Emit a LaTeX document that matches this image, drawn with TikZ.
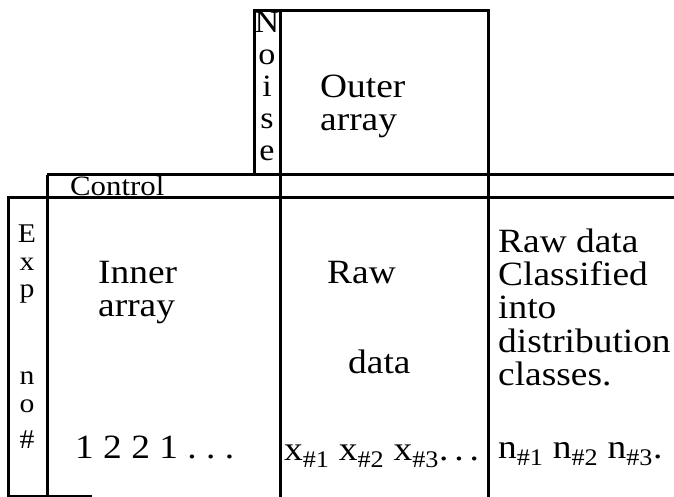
\documentclass[tikz,border=0pt]{standalone}
\usepackage{fontspec}
\setmainfont{Liberation Serif}[FakeStretch=1.1]
\begin{document}
\begin{tikzpicture}[x=1pt,y=-1pt,
  rule/.style={line width=3pt},
  thinrule/.style={line width=1.2pt},
  lbl/.style={anchor=base west, inner sep=0pt, font=\fontsize{34}{36}\selectfont},
  vletter/.style={anchor=base, inner sep=0pt, font=\fontsize{31}{33}\selectfont},
  eletter/.style={anchor=base, inner sep=0pt, font=\fontsize{27}{29}\selectfont},
  tag/.style={anchor=base west, inner sep=0pt, font=\fontsize{28}{30}\selectfont}]
\useasboundingbox (0,0) rectangle (674,497);

% control strip label, partly hidden under the rule above it
\node[tag] (control) at (70,196) {Control};
\fill[white] (40,150) rectangle (674,174);

% outer array header with the noise column
\draw[rule] (254,175) -- (254,11) -- (488,11) -- (488,497);
\draw[rule] (280,11) -- (280,497);
% control strip
\draw[rule] (47,175) -- (674,175);
\draw[rule] (7,197) -- (674,197);
\draw[rule] (47,175) -- (47,497);
% experiment number column
\draw[rule] (8,197) -- (8,496) -- (47,496);
\draw[thinrule] (47,496) -- (92,496);

% vertical labels
\foreach \ch [count=\i] in {N,o,i,s,e}
  \node[vletter] (noise\i) at (267,{1+\i*32}) {\ch};
\node[eletter] (exp1) at (27,242) {E};
\node[eletter] (exp2) at (27,270) {x};
\node[eletter] (exp3) at (27,297) {p};
\node[eletter] (exp4) at (27,384) {n};
\node[eletter] (exp5) at (27,412) {o};
\node[eletter] (exp6) at (27,448) {\#};

% headings and cell texts
\node[lbl] (outer1) at (320,98) {Outer};
\node[lbl] (outer2) at (320,131) {array};
\node[lbl] (inner1) at (98,283) {Inner};
\node[lbl] (inner2) at (98,316) {array};
\node[lbl] (raw1) at (327,283) {Raw};
\node[lbl] (raw2) at (348,373) {data};
\node[lbl] (cls1) at (498,252) {Raw data};
\node[lbl] (cls2) at (498,285) {Classified};
\node[lbl] (cls3) at (498,318) {into};
\node[lbl] (cls4) at (498,352) {distribution};
\node[lbl] (cls5) at (498,385) {classes.};

% bottom row
\node[lbl] (levels) at (75,458) {1 2 2 1 .\ .\ .};
\node[lbl] (xs) at (284,460) {x\textsubscript{\#1} x\textsubscript{\#2} x\textsubscript{\#3}.\hspace{6pt}.\hspace{6pt}.};
\node[lbl] (ns) at (498,458) {n\textsubscript{\#1} n\textsubscript{\#2} n\textsubscript{\#3}.};
\end{tikzpicture}
\end{document}
